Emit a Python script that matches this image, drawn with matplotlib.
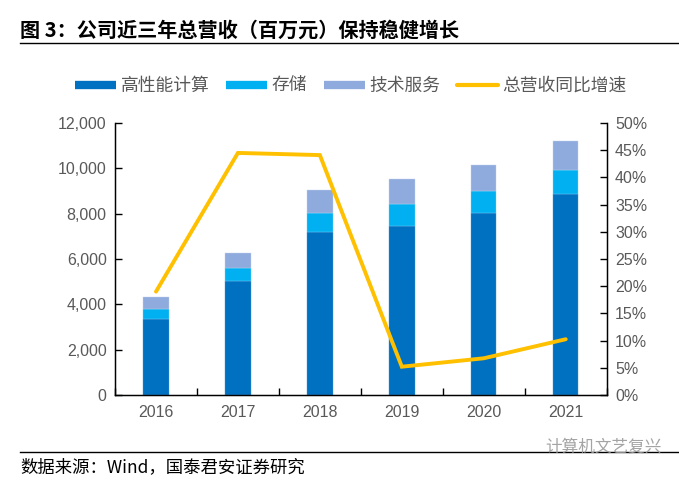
import numpy as np
import matplotlib
matplotlib.use('Agg')
import matplotlib.pyplot as plt
from matplotlib.lines import Line2D
from matplotlib.ticker import FuncFormatter

plt.rcParams['font.family'] = ['Noto Sans CJK SC', 'DejaVu Sans']

years = ['2016', '2017', '2018', '2019', '2020', '2021']
hpc = [3340, 5040, 7190, 7470, 8040, 8850]
storage = [455, 575, 855, 970, 970, 1070]
service = [545, 650, 1000, 1070, 1130, 1265]
growth = [19.0, 44.5, 44.1, 5.2, 6.75, 10.25]

c_hpc = '#0070C0'
c_sto = '#00B0F0'
c_srv = '#8FAADC'
c_line = '#FFC000'
tick_color = '#595959'


def main():
    fig = plt.figure(figsize=(6.79, 4.8), dpi=100)
    ax = fig.add_axes([115 / 679, 85 / 480, 491.7 / 679, 272 / 480])

    x = np.arange(len(years))
    w = 0.31
    hpc_a = np.array(hpc)
    sto_a = np.array(storage)
    srv_a = np.array(service)
    ax.bar(x, hpc_a, w, color=c_hpc, edgecolor='#5b9bd5', linewidth=0.3)
    ax.bar(x, sto_a, w, bottom=hpc_a, color=c_sto, edgecolor='#7fd0f5', linewidth=0.3)
    ax.bar(x, srv_a, w, bottom=hpc_a + sto_a, color=c_srv, edgecolor='#c5d3ee', linewidth=0.3)

    ax.set_xlim(-0.5, len(years) - 0.5)
    ax.set_ylim(0, 12000)
    ax.set_yticks(range(0, 12001, 2000))
    ax.yaxis.set_major_formatter(FuncFormatter(lambda v, p: f'{int(v):,}'))
    ax.set_xticks(x)
    ax.set_xticklabels(years)
    ax.set_xticks(np.arange(-0.5, len(years), 1.0), minor=True)
    ax.tick_params(axis='x', which='major', length=0, pad=7)
    ax.tick_params(axis='x', which='minor', direction='in', length=5, width=1)
    ax.tick_params(axis='y', direction='in', length=5, width=1, pad=6)
    for lab in ax.get_xticklabels() + ax.get_yticklabels():
        lab.set_fontfamily('Liberation Sans')
        lab.set_fontsize(11.5)
        lab.set_color(tick_color)
    ax.spines['top'].set_visible(False)
    for s in ['left', 'bottom', 'right']:
        ax.spines[s].set_linewidth(1)
        ax.spines[s].set_color('black')

    ax2 = ax.twinx()
    ax2.plot(x, growth, color=c_line, linewidth=2.8, solid_capstyle='round', solid_joinstyle='miter')
    ax2.set_ylim(0, 50)
    ax2.set_yticks(range(0, 51, 5))
    ax2.yaxis.set_major_formatter(FuncFormatter(lambda v, p: f'{int(v)}%'))
    ax2.tick_params(axis='y', direction='in', length=5, width=1, pad=6)
    for lab in ax2.get_yticklabels():
        lab.set_fontfamily('Liberation Sans')
        lab.set_fontsize(11.5)
        lab.set_color(tick_color)
    ax2.spines['top'].set_visible(False)
    ax2.spines['right'].set_color('black')

    handles = [
        Line2D([], [], color=c_hpc, linewidth=6, solid_capstyle='butt'),
        Line2D([], [], color=c_sto, linewidth=6, solid_capstyle='butt'),
        Line2D([], [], color=c_srv, linewidth=6, solid_capstyle='butt'),
        Line2D([], [], color=c_line, linewidth=3, solid_capstyle='round'),
    ]
    labels = ['高性能计算', '存储', '技术服务', '总营收同比增速']
    leg = fig.legend(handles, labels, loc='center', bbox_to_anchor=(351 / 679, 1 - 86 / 480),
                     ncol=4, frameon=False, fontsize=12.8, handlelength=2.3,
                     handletextpad=0.25, columnspacing=0.95, borderpad=0)
    for t in leg.get_texts():
        t.set_color(tick_color)

    fig.text(20 / 679, 1 - 30 / 480, '图 3：公司近三年总营收（百万元）保持稳健增长',
             fontsize=14.5, fontweight='bold', va='center', ha='left', color='black')
    fig.add_artist(Line2D([20 / 679, 1.0], [1 - 43 / 480] * 2, color='black', linewidth=1))
    fig.add_artist(Line2D([20 / 679, 1.0], [1 - 452 / 480] * 2, color='black', linewidth=1))
    fig.text(20 / 679, 1 - 467 / 480, '数据来源：Wind，国泰君安证券研究',
             fontsize=12.5, va='center', ha='left', color='black')
    fig.text(545 / 679, 1 - 447 / 480, '计算机文艺复兴', fontsize=12,
             va='center', ha='left', color='#9a9a9a', alpha=0.9)

    fig.savefig('out.png', dpi=100)


if __name__ == '__main__':
    main()
